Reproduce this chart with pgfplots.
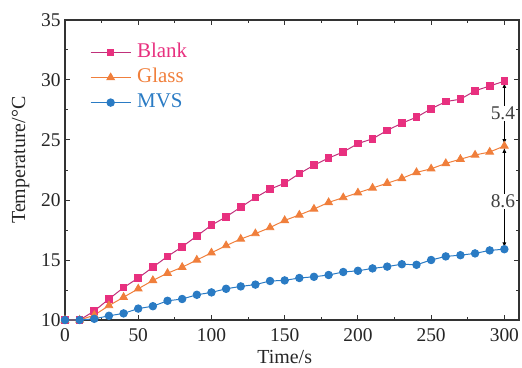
\documentclass[border=0pt]{standalone}
\usepackage{fontspec}
\setmainfont{Liberation Serif}
\usepackage{pgfplots}
\pgfplotsset{compat=1.18}
\usetikzlibrary{arrows.meta}
\definecolor{cblank}{HTML}{E8307F}
\definecolor{cblankline}{HTML}{C0307A}
\definecolor{cglass}{HTML}{F07F3C}
\definecolor{cmvs}{HTML}{2A7BC4}
\definecolor{caxis}{HTML}{333333}
\pgfplotstableread{
t blank glass mvs
0 10.0 10.0 10.0
10 10.0 10.0 10.0
20 10.75 10.4 10.1
30 11.75 11.2 10.35
40 12.7 11.9 10.55
50 13.5 12.6 10.95
60 14.4 13.3 11.15
70 15.3 13.9 11.6
80 16.1 14.4 11.75
90 17.0 15.0 12.1
100 17.9 15.6 12.3
110 18.6 16.2 12.6
120 19.4 16.75 12.8
130 20.2 17.2 12.95
140 20.9 17.7 13.25
150 21.4 18.3 13.3
160 22.2 18.75 13.5
170 22.9 19.25 13.6
180 23.5 19.8 13.75
190 24.0 20.2 14.0
200 24.7 20.6 14.1
210 25.1 21.0 14.3
220 25.8 21.4 14.45
230 26.4 21.8 14.65
240 26.9 22.3 14.6
250 27.6 22.6 15.0
260 28.2 23.05 15.3
270 28.4 23.4 15.4
280 29.1 23.75 15.55
290 29.5 24.0 15.8
300 29.9 24.5 15.9
}\datatable
\begin{document}
\begin{tikzpicture}
\path[use as bounding box] (0,0) rectangle (522bp,368bp);
\begin{axis}[
  at={(65bp,48bp)}, anchor=south west,
  scale only axis, width=454bp, height=300bp,
  xmin=0, xmax=310, ymin=10, ymax=35,
  xtick={0,50,...,300}, ytick={10,15,...,35},
  minor x tick num=1, minor y tick num=1,
  tick align=inside,
  major tick length=5bp, minor tick length=3bp,
  axis line style={caxis, line width=1.2pt},
  every tick/.style={caxis, line width=1pt},
  /pgf/number format/assume math mode=true,
  ticklabel style={font=\fontsize{19.5}{19.5}\selectfont, text=black!85},
  xticklabel style={yshift=-5bp},
  yticklabel style={xshift=-1bp},
  label style={font=\fontsize{20}{20}\selectfont, text=black!85},
  xlabel={Time/s}, ylabel={Temperature/°C},
  xlabel style={at={(axis description cs:0.4839,0)}, anchor=base, yshift=-43bp},
  ylabel style={at={(axis description cs:-0.098,0.533)}, anchor=center},
  clip=false,
  legend style={draw=none, fill=none, at={(0.055,0.932)}, anchor=north west,
    inner sep=0pt,
    font=\fontsize{21}{21}\selectfont, row sep=1bp,
    nodes={inner sep=1bp, text height=16bp, text depth=6bp},
    legend cell align=left},
  legend image code/.code={\draw[mark repeat=2,mark phase=2] plot coordinates {(0bp,0bp)(20bp,0bp)(40bp,0bp)};},
]
\addplot[cblankline, line width=1pt, mark=square*, mark size=3.3bp, mark options={cblank, fill=cblank, solid}] table[x=t,y=blank] {\datatable};
\addlegendentry{\hspace{5bp}\textcolor{cblank}{Blank}}
\addplot[cglass, line width=1pt, mark=triangle*, mark size=4.3bp, mark options={cglass, fill=cglass, solid}] table[x=t,y=glass] {\datatable};
\addlegendentry{\hspace{5bp}\textcolor{cglass}{Glass}}
\addplot[cmvs, line width=1pt, mark=*, mark size=3.7bp, mark options={cmvs, fill=cmvs, solid}] table[x=t,y=mvs] {\datatable};
\addlegendentry{\hspace{5bp}\textcolor{cmvs}{MVS}}
\draw[{Latex[length=5bp,width=4bp]}-{Latex[length=5bp,width=4bp]}, line width=0.8pt] (axis cs:300,29.75) -- (axis cs:300,24.65);
\draw[{Latex[length=5bp,width=4bp]}-{Latex[length=5bp,width=4bp]}, line width=0.8pt] (axis cs:300,24.35) -- (axis cs:300,16.05);
\node[fill=white, inner sep=1bp, font=\fontsize{19.5}{19.5}\selectfont, text=black!75] at (axis cs:299,27.2) {5.4};
\node[fill=white, inner sep=1bp, font=\fontsize{19.5}{19.5}\selectfont, text=black!75] at (axis cs:299,19.9) {8.6};
\end{axis}
\end{tikzpicture}
\end{document}
